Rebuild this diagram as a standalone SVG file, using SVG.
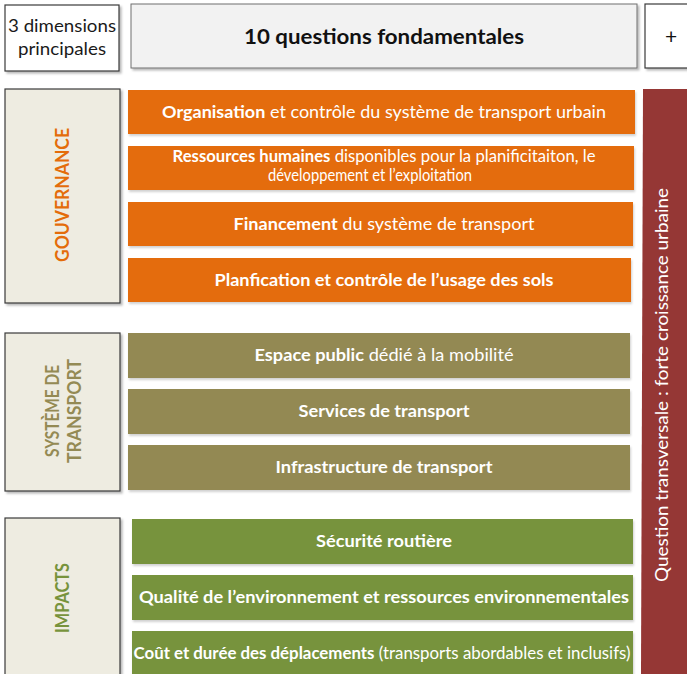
<svg xmlns="http://www.w3.org/2000/svg" width="687" height="674" viewBox="0 0 687 674">
  <defs>
    <filter id="sh" x="-5%" y="-10%" width="112%" height="130%">
      <feDropShadow dx="2" dy="2" stdDeviation="1.2" flood-color="#000" flood-opacity="0.28"/>
    </filter>
    <filter id="shs" x="-5%" y="-10%" width="112%" height="130%">
      <feDropShadow dx="1" dy="2" stdDeviation="1.2" flood-color="#000" flood-opacity="0.18"/>
    </filter>
  </defs>
  <style>
    text { font-family: Lato, "Liberation Sans", sans-serif; }
    .hdr { fill: #ffffff; stroke: #3a3a3a; stroke-width: 1.2; }
    .title { fill: #f2f2f2; stroke: #6f6f6f; stroke-width: 1; }
    .dim { fill: #eeece1; stroke: #3a3a3a; stroke-width: 1.2; }
    .or { fill: #e46c0a; }
    .ol { fill: #938953; }
    .gr { fill: #77933c; }
    .lbl { fill: #ffffff; font-size: 17.5px; text-anchor: middle; }
    .b { font-weight: bold; }
    .dimtxt { font-size: 19px; font-weight: bold; text-anchor: middle; }
  </style>

  <!-- header row -->
  <g id="header-dimensions">
    <rect class="hdr" x="5" y="5" width="114" height="66" filter="url(#sh)"/>
    <text x="62" y="32" font-size="17" text-anchor="middle" fill="#1a1a1a" textLength="108" lengthAdjust="spacingAndGlyphs">3 dimensions</text>
    <text x="62" y="55" font-size="17" text-anchor="middle" fill="#1a1a1a" textLength="88" lengthAdjust="spacingAndGlyphs">principales</text>
  </g>
  <g id="header-questions">
    <rect class="title" x="131" y="4" width="506" height="64" filter="url(#sh)"/>
    <text x="384" y="44" font-size="21.5" font-weight="bold" text-anchor="middle" fill="#111" textLength="280" lengthAdjust="spacingAndGlyphs">10 questions fondamentales</text>
  </g>
  <g id="header-plus">
    <rect class="hdr" x="645" y="4" width="50" height="64" filter="url(#sh)"/>
    <text x="671" y="44" font-size="21" text-anchor="middle" fill="#111">+</text>
  </g>

  <!-- cross-cutting band -->
  <g id="transversal">
    <polygon points="643,89 687,89 687,674 641,674" fill="#953735"/>
    <text transform="translate(668,385) rotate(-90)" font-family="'Open Sans', sans-serif" font-size="16.5" fill="#ffffff" text-anchor="middle" textLength="394" lengthAdjust="spacingAndGlyphs">Question transversale : forte croissance urbaine</text>
  </g>

  <!-- dimension: gouvernance -->
  <g id="dim-gouvernance">
    <rect class="dim" x="5" y="89" width="115" height="214" filter="url(#sh)"/>
    <text class="dimtxt" transform="translate(69,195) rotate(-90)" fill="#e46c0a" textLength="134" lengthAdjust="spacingAndGlyphs">GOUVERNANCE</text>
  </g>
  <g id="q-organisation">
    <rect class="or" x="128" y="90" width="507" height="44" filter="url(#shs)"/>
    <text class="lbl" x="384" y="118" textLength="444" lengthAdjust="spacingAndGlyphs"><tspan class="b">Organisation</tspan> et contrôle du système de transport urbain</text>
  </g>
  <g id="q-ressources">
    <rect class="or" x="128" y="146" width="506" height="44" filter="url(#shs)"/>
    <text class="lbl" x="384" y="162" font-size="14.5" textLength="423" lengthAdjust="spacingAndGlyphs"><tspan class="b">Ressources humaines</tspan> disponibles pour la planificitaiton, le</text>
    <text class="lbl" x="370" y="181" font-size="14.5" textLength="204" lengthAdjust="spacingAndGlyphs">développement et l’exploitation</text>
  </g>
  <g id="q-financement">
    <rect class="or" x="128" y="202" width="505" height="44" filter="url(#shs)"/>
    <text class="lbl" x="384" y="230" textLength="301" lengthAdjust="spacingAndGlyphs"><tspan class="b">Financement</tspan> du système de transport</text>
  </g>
  <g id="q-planification">
    <rect class="or" x="128" y="258" width="503" height="44" filter="url(#shs)"/>
    <text class="lbl b" x="384" y="286" textLength="339" lengthAdjust="spacingAndGlyphs">Planfication et contrôle de l’usage des sols</text>
  </g>

  <!-- dimension: système de transport -->
  <g id="dim-systeme">
    <rect class="dim" x="5" y="333" width="115" height="158" filter="url(#sh)"/>
    <text class="dimtxt" transform="translate(59,411) rotate(-90)" fill="#948a54" textLength="92" lengthAdjust="spacingAndGlyphs">SYSTÈME DE</text>
    <text class="dimtxt" transform="translate(81,411) rotate(-90)" fill="#948a54" textLength="104" lengthAdjust="spacingAndGlyphs">TRANSPORT</text>
  </g>
  <g id="q-espace">
    <rect class="ol" x="128" y="333" width="502" height="45" filter="url(#shs)"/>
    <text class="lbl" x="384" y="361" textLength="259" lengthAdjust="spacingAndGlyphs"><tspan class="b">Espace public</tspan> dédié à la mobilité</text>
  </g>
  <g id="q-services">
    <rect class="ol" x="128" y="389" width="502" height="45" filter="url(#shs)"/>
    <text class="lbl b" x="384" y="417" textLength="171" lengthAdjust="spacingAndGlyphs">Services de transport</text>
  </g>
  <g id="q-infrastructure">
    <rect class="ol" x="128" y="445" width="502" height="45" filter="url(#shs)"/>
    <text class="lbl b" x="384" y="473" textLength="217" lengthAdjust="spacingAndGlyphs">Infrastructure de transport</text>
  </g>

  <!-- dimension: impacts -->
  <g id="dim-impacts">
    <rect class="dim" x="5" y="518" width="115" height="170" filter="url(#sh)"/>
    <text class="dimtxt" transform="translate(69,598) rotate(-90)" fill="#77933c" textLength="70" lengthAdjust="spacingAndGlyphs">IMPACTS</text>
  </g>
  <g id="q-securite">
    <rect class="gr" x="132" y="519" width="501" height="45" filter="url(#shs)"/>
    <text class="lbl b" x="384" y="547" textLength="136" lengthAdjust="spacingAndGlyphs">Sécurité routière</text>
  </g>
  <g id="q-environnement">
    <rect class="gr" x="132" y="575" width="501" height="45" filter="url(#shs)"/>
    <text class="lbl b" x="384" y="603" textLength="490" lengthAdjust="spacingAndGlyphs">Qualité de l’environnement et ressources environnementales</text>
  </g>
  <g id="q-cout">
    <rect class="gr" x="132" y="631" width="501" height="50" filter="url(#shs)"/>
    <text class="lbl" x="382" y="659" textLength="497" lengthAdjust="spacingAndGlyphs"><tspan class="b">Coût et durée des déplacements</tspan>  (transports abordables et inclusifs)</text>
  </g>
</svg>
